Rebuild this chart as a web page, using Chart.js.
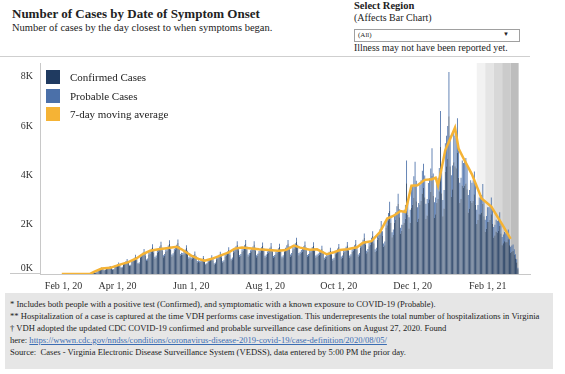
<!DOCTYPE html>
<html>
<head>
<meta charset="utf-8">
<script src="https://cdn.jsdelivr.net/npm/chart.js@4/dist/chart.umd.min.js"></script>
<style>
  body { margin: 0; background: #fff; font-family: "Liberation Serif", "Times New Roman", serif; color: #222; }
  #page { position: relative; width: 565px; height: 374px; overflow: hidden; }
  .abs { position: absolute; white-space: nowrap; }
  #chartBox { position: absolute; left: 0; top: 50px; width: 540px; height: 250px; }
  .sw { position: absolute; width: 14px; height: 14px; }
  .lg { position: absolute; font-size: 11px; line-height: 14px; }
  #notes { position: absolute; left: 5px; top: 293px; width: 548px; height: 76px; background: #e6e6e6; }
  #notes div { position: absolute; left: 5px; font-size: 8.6px; white-space: nowrap; }
  #notes a { color: #3b6db3; }
</style>
</head>
<body>
<div id="page">
  <div class="abs" style="left:12px;top:6px;font-size:13px;font-weight:bold;">Number of Cases by Date of Symptom Onset</div>
  <div class="abs" style="left:12px;top:22px;font-size:10.5px;">Number of cases by the day closest to when symptoms began.</div>

  <div class="abs" style="left:354px;top:0px;font-size:10.5px;font-weight:bold;">Select Region</div>
  <div class="abs" style="left:354px;top:12px;font-size:10px;">(Affects Bar Chart)</div>
  <div class="abs" style="left:354px;top:29px;width:164px;height:11px;border:1px solid #a0a0a0;background:#fff;">
    <span class="abs" style="left:3px;top:1px;font-size:7px;">(All)</span>
    <span class="abs" style="left:148px;top:1px;font-size:6px;">&#9660;</span>
  </div>
  <div class="abs" style="left:354px;top:42px;font-size:9.8px;">Illness may not have been reported yet.</div>

  <div class="abs" style="left:0;top:56px;width:530px;height:1px;background:#cfcfcf;"></div>
  <div class="abs" style="left:10px;top:273px;width:30px;height:1px;background:#c8c8c8;"></div>

  <div id="chartBox"><canvas id="c"></canvas></div>

  <div class="sw" style="left:46px;top:70px;background:#1f3a60;"></div>
  <div class="lg" style="left:70px;top:70px;">Confirmed Cases</div>
  <div class="sw" style="left:46px;top:89px;background:#4b70a9;"></div>
  <div class="lg" style="left:70px;top:89px;">Probable Cases</div>
  <div class="sw" style="left:46px;top:107px;background:#f5b335;"></div>
  <div class="lg" style="left:70px;top:107px;">7-day moving average</div>

  <div id="notes">
    <div style="top:6px;">* Includes both people with a positive test (Confirmed), and symptomatic with a known exposure to COVID-19 (Probable).</div>
    <div style="top:18px;">** Hospitalization of a case is captured at the time VDH performs case investigation. This underrepresents the total number of hospitalizations in Virginia</div>
    <div style="top:30px;">&dagger; VDH adopted the updated CDC COVID-19 confirmed and probable surveillance case definitions on August 27, 2020. Found</div>
    <div style="top:42px;">here: <a href="#">https://wwwn.cdc.gov/nndss/conditions/coronavirus-disease-2019-covid-19/case-definition/2020/08/05/</a></div>
    <div style="top:54px;">Source:&nbsp; Cases - Virginia Electronic Disease Surveillance System (VEDSS), data entered by 5:00 PM the prior day.</div>
  </div>
</div>

<script>
// day numbers count from Jan 1, 2020 (= 0); bars start Monday Feb 17, 2020
const firstDay = 47;

// daily confirmed cases, one row per week (Mon..Sun)
const confirmed = [
  0,0,0,0,0,0,0,
  0,0,0,0,0,0,0,
  2,3,4,4,5,4,5,
  28,37,50,72,63,55,68,
  135,160,195,230,195,140,160,
  210,225,245,290,235,170,180,
  305,320,355,420,340,240,260,
  400,420,460,545,445,320,335,
  510,540,590,700,565,405,430,
  665,700,770,905,735,525,560,
  795,835,915,1085,875,630,670,
  860,905,995,1175,950,680,725,
  895,940,1035,1225,985,710,755,
  920,970,1065,1255,1015,725,775,
  765,805,890,1050,845,605,645,
  595,625,690,815,660,470,500,
  475,500,550,655,530,375,405,
  495,520,575,680,545,390,415,
  600,630,695,815,665,465,495,
  710,745,820,970,780,555,595,
  870,915,1005,1190,960,685,730,
  900,950,1045,1240,1000,710,760,
  865,920,1000,1195,955,680,735,
  840,885,975,1150,930,665,710,
  820,865,950,1125,910,650,690,
  805,850,935,1105,890,635,680,
  900,950,1045,1240,1000,710,760,
  960,1010,1115,1315,1060,760,810,
  870,915,1005,1180,960,685,730,
  840,885,975,1150,930,665,705,
  745,785,865,1025,825,590,630,
  695,730,805,950,770,550,585,
  800,840,925,1090,880,630,670,
  850,895,985,1160,940,670,715,
  895,945,1040,1230,995,710,760,
  1065,1125,1235,1465,1185,845,900,
  1125,1185,1305,1540,1245,890,950,
  1390,1460,1605,1900,1535,1100,1170,
  1880,1980,2180,2575,2075,1485,1585,
  2080,2190,2410,2850,2300,1640,1750,
  2000,2080,2240,3680,2400,1840,2080,
  2670,2810,3090,3550,2950,2105,2245,
  2815,2965,3260,3485,3110,2225,2370,
  2880,3025,3330,3980,3175,2270,2420,
  2885,3040,3355,5150,3275,2340,2650,
  4135,4370,4680,6390,4370,3120,3430,
  4525,4370,4290,4920,3900,2885,3040,
  3590,3510,3590,3665,3430,2495,2650,
  2965,2885,2965,3235,2810,2030,2185,
  2420,2420,2495,2845,2340,1715,1835,
  2105,2105,2185,2420,2030,1480,1560,
  1715,1675,1755,1950,1640,1170,1250,
  1325,1285,1285,1405,1170,860,895,
  935,780,625,470,195
];

// daily probable cases, same days
const probable = [
  0,0,0,0,0,0,0,
  0,0,0,0,0,0,0,
  0,0,1,0,1,0,0,
  2,3,5,8,7,5,7,
  15,20,25,30,25,20,20,
  25,25,30,35,30,20,20,
  35,40,40,50,40,30,30,
  45,50,55,65,50,35,40,
  60,60,70,80,65,45,50,
  75,80,90,105,85,60,65,
  90,95,105,125,100,70,75,
  100,105,115,135,110,80,85,
  105,110,120,140,115,80,85,
  105,110,125,145,120,85,90,
  90,95,100,120,100,70,75,
  70,75,80,95,75,55,60,
  55,60,65,75,60,45,45,
  55,60,65,75,65,45,50,
  70,70,80,90,75,55,60,
  80,85,95,110,90,65,70,
  100,105,115,135,110,80,85,
  105,110,120,140,115,85,90,
  100,105,115,135,110,80,85,
  95,100,110,130,105,75,80,
  95,100,110,130,105,75,80,
  95,95,105,125,100,75,75,
  105,110,120,140,115,85,90,
  115,120,130,155,125,90,95,
  105,105,120,140,110,80,85,
  100,105,115,135,110,80,85,
  90,95,105,120,100,70,75,
  85,90,95,115,90,65,70,
  95,100,110,130,105,75,80,
  100,105,115,140,110,80,85,
  110,115,125,150,120,85,90,
  130,135,150,175,140,100,110,
  140,145,160,190,150,110,115,
  180,190,210,245,200,140,150,
  260,270,295,350,285,205,215,
  295,310,340,400,325,235,250,
  500,520,560,920,600,460,520,
  750,790,870,1000,830,595,635,
  795,835,920,985,880,625,670,
  810,855,940,1120,895,640,680,
  815,860,945,1450,925,660,750,
  1165,1230,1320,1800,1230,880,970,
  1275,1230,1210,1390,1100,815,860,
  1010,990,1010,1035,970,705,750,
  835,815,835,915,790,570,615,
  680,680,705,805,660,485,515,
  595,595,615,680,570,420,440,
  485,475,495,550,460,330,350,
  375,365,365,395,330,240,255,
  265,220,175,130,55
];

// 7-day moving average
const maDays = [45, 68, 72, 78, 85, 93, 100, 107, 112, 118, 125, 130, 140, 144, 152, 158, 163, 169, 176, 183,
  188, 194, 202, 208, 216, 224, 230, 237, 242, 250, 256, 264, 270, 275, 281, 289, 294, 301, 308, 314,
  319, 325, 329, 334, 339, 345, 351, 354, 356, 362, 366, 370, 373, 377, 384, 392, 400, 409, 416];
const maValues = [0, 0, 100, 220, 250, 380, 480, 640, 810, 940, 1000, 1030, 1100, 1000, 745, 615, 535, 615, 745, 875,
  1030, 1070, 1030, 1000, 970, 940, 970, 1150, 1070, 980, 1000, 800, 880, 970, 1000, 1080, 1270, 1330, 1700, 2250,
  2350, 2550, 2510, 3580, 3600, 3815, 3840, 3900, 3580, 5020, 5475, 5930, 5080, 4690, 4040, 3060, 2730, 2010, 1420];

// x-axis ticks (day numbers) and their labels
const tickDays = [31, 91, 152, 213, 274, 335, 397, 432];
const tickLabels = ["Feb 1, 20", "Apr 1, 20", "Jun 1, 20", "Aug 1, 20", "Oct 1, 20", "Dec 1, 20", "Feb 1, 21", ""];
const yTicks = [0, 2000, 4000, 6000, 8000];

// "not reported yet" shading, weekly bands
const bandEdges = [388, 395, 402, 409, 416, 422.6];
const bandColors = ["#f2f2f2", "#e5e5e5", "#d8d8d8", "#cbcbcb", "#bdbdbd"];

const confirmedPts = confirmed.map((v, i) => ({ x: firstDay + i, y: v }));
const probablePts = probable.map((v, i) => ({ x: firstDay + i, y: v }));
const maPts = maDays.map((d, i) => ({ x: d, y: maValues[i] }));

const bands = {
  id: "bands",
  beforeDatasetsDraw(chart) {
    const { ctx, chartArea, scales } = chart;
    ctx.save();
    for (let i = 0; i < bandColors.length; i++) {
      const x0 = scales.x.getPixelForValue(bandEdges[i]);
      const x1 = scales.x.getPixelForValue(bandEdges[i + 1]);
      ctx.fillStyle = bandColors[i];
      ctx.fillRect(x0, chartArea.top, x1 - x0, chartArea.bottom - chartArea.top);
    }
    ctx.restore();
  }
};

new Chart(document.getElementById("c"), {
  type: "bar",
  data: {
    datasets: [
      {
        type: "line",
        label: "7-day moving average",
        data: maPts,
        borderColor: "#f5b335",
        borderWidth: 2.5,
        pointRadius: 0,
        tension: 0,
        stack: "ma",
        order: 0,
      },
      {
        label: "Confirmed Cases",
        data: confirmedPts,
        backgroundColor: "#1f3a60",
        barPercentage: 1,
        categoryPercentage: 0.7,
        stack: "cases",
        order: 1,
      },
      {
        label: "Probable Cases",
        data: probablePts,
        backgroundColor: "#4b70a9",
        barPercentage: 1,
        categoryPercentage: 0.7,
        stack: "cases",
        order: 2,
      },
    ],
  },
  options: {
    responsive: true,
    maintainAspectRatio: false,
    animation: false,
    layout: { padding: { top: 6, right: 10, bottom: 0, left: 0 } },
    plugins: { legend: { display: false }, tooltip: { enabled: false } },
    scales: {
      x: {
        type: "linear",
        stacked: true,
        offset: false,
        min: 27,
        max: 432,
        grid: { display: false, drawTicks: false, offset: false },
        border: { display: true, color: "#c8c8c8" },
        afterBuildTicks: (scale) => { scale.ticks = tickDays.map((v) => ({ value: v })); },
        afterFit: (scale) => { scale.height = 26; },
        ticks: {
          autoSkip: false,
          maxRotation: 0,
          align: "inner",
          padding: 6,
          color: "#333",
          font: { family: "Liberation Serif", size: 10 },
          callback: (v) => tickLabels[tickDays.indexOf(v)],
        },
      },
      y: {
        stacked: true,
        min: 0,
        max: 8550,
        grid: { display: false, drawTicks: false },
        border: { display: true, color: "#c8c8c8" },
        afterBuildTicks: (scale) => { scale.ticks = yTicks.map((v) => ({ value: v })); },
        afterFit: (scale) => { scale.width = 40; },
        ticks: {
          padding: 7,
          color: "#333",
          font: { family: "Liberation Serif", size: 10 },
          // the 0K label sits a little above the baseline, as in the original
          callback: (v) => (v === 0 ? ["0K", ""] : v / 1000 + "K"),
        },
      },
    },
  },
  plugins: [bands],
});
</script>
</body>
</html>
